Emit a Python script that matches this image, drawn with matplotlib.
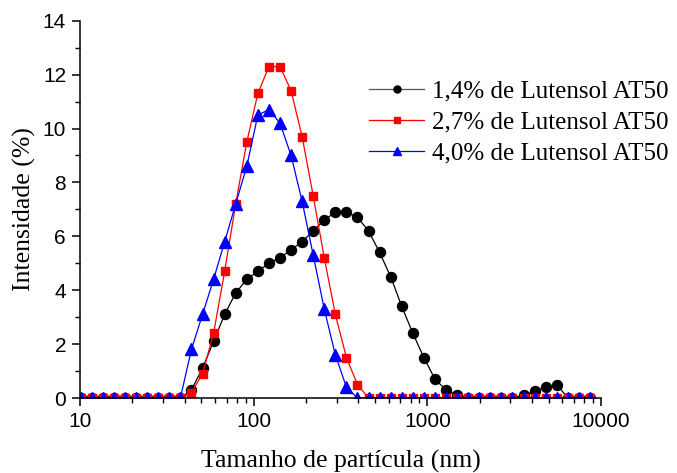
import numpy as np
import matplotlib
matplotlib.use('Agg')
import matplotlib.pyplot as plt
from matplotlib.ticker import LogLocator, MultipleLocator, FixedLocator

# particle size bins (nm)
size = [10.10, 11.70, 13.54, 15.69, 18.17, 21.04, 24.36, 28.21, 32.67, 37.84,
        43.82, 50.75, 58.77, 68.06, 78.82, 91.28, 105.7, 122.4, 141.8, 164.2,
        190.1, 220.2, 255.0, 295.3, 342.0, 396.1, 458.7, 531.2, 615.1, 712.4,
        825.0, 955.4, 1106, 1281, 1484, 1718, 1990, 2305, 2669, 3091,
        3580, 4145, 4801, 5560, 6439, 7456, 8635]

# intensity (%)
lut_14 = [0, 0, 0, 0, 0, 0, 0, 0, 0, 0,
          0.3, 1.1, 2.1, 3.1, 3.9, 4.4, 4.7, 5.0, 5.2, 5.5,
          5.8, 6.2, 6.6, 6.9, 6.9, 6.7, 6.2, 5.4, 4.5, 3.4,
          2.4, 1.5, 0.7, 0.3, 0.1, 0, 0, 0, 0, 0,
          0.1, 0.25, 0.4, 0.5, 0, 0, 0]
lut_27 = [0, 0, 0, 0, 0, 0, 0, 0, 0, 0,
          0.2, 0.9, 2.4, 4.7, 7.2, 9.5, 11.3, 12.3, 12.3, 11.4,
          9.7, 7.5, 5.2, 3.1, 1.5, 0.5, 0, 0, 0, 0,
          0, 0, 0, 0, 0, 0, 0, 0, 0, 0,
          0, 0, 0, 0, 0, 0, 0]
lut_40 = [0, 0, 0, 0, 0, 0, 0, 0, 0, 0,
          1.8, 3.1, 4.4, 5.8, 7.2, 8.6, 10.5, 10.7, 10.2, 9.0,
          7.3, 5.3, 3.3, 1.6, 0.4, 0, 0, 0, 0, 0,
          0, 0, 0, 0, 0, 0, 0, 0, 0, 0,
          0, 0, 0, 0, 0, 0, 0]

labels = ['1,4% de Lutensol AT50', '2,7% de Lutensol AT50', '4,0% de Lutensol AT50']

serif = ['Liberation Serif', 'DejaVu Serif']
sans = ['Liberation Sans', 'DejaVu Sans']

fig = plt.figure(figsize=(6.77, 4.73), dpi=100)
ax = fig.add_axes([80/677, 1-398/473, 521/677, (398-20.7)/473])

ax.plot(size, lut_14, '-', color='black', lw=0.9, marker='o', ms=7.2,
        mfc='black', mec='black', label=labels[0])
ax.plot(size, lut_27, '-', color='red', lw=0.9, marker='s', ms=6.4,
        mfc='red', mec='red', label=labels[1])
ax.plot(size, lut_40, '-', color='blue', lw=0.9, marker='^', ms=8,
        mfc='blue', mec='blue', label=labels[2])

ax.set_xscale('log')
ax.set_xlim(10, 10000)
ax.set_ylim(0, 14)
ax.xaxis.set_major_locator(FixedLocator([10, 100, 1000, 10000]))
ax.xaxis.set_minor_locator(LogLocator(base=10, subs=np.arange(2, 10)))
ax.set_xticklabels(['10', '100', '1000', '10000'])
ax.yaxis.set_major_locator(MultipleLocator(2))
ax.yaxis.set_minor_locator(MultipleLocator(1))

for s in ['top', 'right']:
    ax.spines[s].set_visible(False)
for s in ['left', 'bottom']:
    ax.spines[s].set_linewidth(1.1)

ax.tick_params(which='major', direction='out', length=6, width=1.1,
               labelsize=15, pad=4)
ax.tick_params(which='minor', direction='out', length=3.5, width=1.0)
for t in ax.get_xticklabels() + ax.get_yticklabels():
    t.set_family(sans)

ax.set_xlabel('Tamanho de partícula (nm)', family=serif, fontsize=18.5, labelpad=14)
ax.set_ylabel('Intensidade (%)', family=serif, fontsize=18.5, labelpad=5)

leg = ax.legend(loc='upper left', bbox_to_anchor=(0.555, 0.842), frameon=False,
                prop={'family': serif, 'size': 18}, handlelength=2.2,
                handletextpad=0.3, labelspacing=0.33, borderpad=0,
                borderaxespad=0, markerscale=0.7)
leg.get_lines()[0].set_color('#555555')
leg.get_lines()[0].set_markerfacecolor('black')
leg.get_lines()[0].set_markeredgecolor('black')

plt.savefig('out.png', dpi=100)
